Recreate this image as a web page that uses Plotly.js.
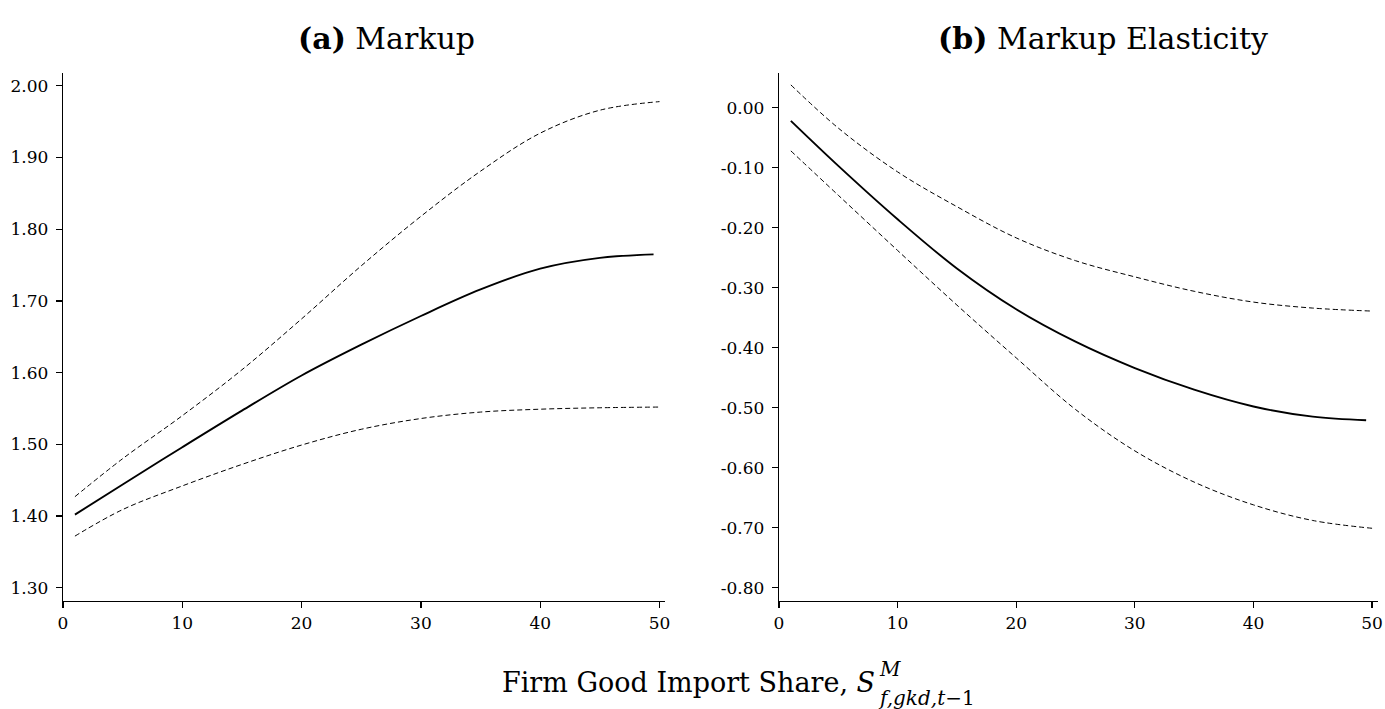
<!DOCTYPE html>
<html>
<head>
<meta charset="utf-8">
<script src="https://cdn.plot.ly/plotly-3.0.1.min.js"></script>
<style>
  html, body { margin: 0; padding: 0; background: #fff; }
  #chart { width: 1385px; height: 709px; }
</style>
</head>
<body>
<div id="chart"></div>
<script>
// Import share grid (percent); the point estimate stops slightly before the bands
const xMean = [1, 5, 10, 15, 20, 25, 30, 35, 40, 45, 49.5];
const xBand = [1, 5, 10, 15, 20, 25, 30, 35, 40, 45, 50];

// (a) Markup: point estimate and confidence bounds
const markupMean  = [1.402, 1.444, 1.496, 1.547, 1.596, 1.639, 1.679, 1.716, 1.745, 1.760, 1.765];
const markupUpper = [1.427, 1.480, 1.540, 1.604, 1.675, 1.749, 1.818, 1.881, 1.934, 1.966, 1.978];
const markupLower = [1.372, 1.409, 1.442, 1.472, 1.499, 1.521, 1.536, 1.545, 1.549, 1.551, 1.552];

// (b) Markup elasticity: point estimate and confidence bounds
const elastMean  = [-0.022, -0.097, -0.186, -0.268, -0.336, -0.390, -0.434, -0.470, -0.498, -0.515, -0.521];
const elastUpper = [0.038, -0.034, -0.107, -0.165, -0.217, -0.255, -0.282, -0.306, -0.324, -0.334, -0.339];
const elastLower = [-0.072, -0.146, -0.238, -0.329, -0.417, -0.503, -0.572, -0.624, -0.662, -0.688, -0.701];

// Tick marks and their printed labels
const xTicks = [0, 10, 20, 30, 40, 50];
const markupTicks = [1.3, 1.4, 1.5, 1.6, 1.7, 1.8, 1.9, 2.0];
const markupTickText = ['1.30', '1.40', '1.50', '1.60', '1.70', '1.80', '1.90', '2.00'];
const elastTicks = [0, -0.1, -0.2, -0.3, -0.4, -0.5, -0.6, -0.7, -0.8];
const elastTickText = ['0.00', '-0.10', '-0.20', '-0.30', '-0.40', '-0.50', '-0.60', '-0.70', '-0.80'];

const W = 1385, H = 709;
const px = v => v / W;          // horizontal pixel -> paper
const py = v => 1 - v / H;      // vertical pixel -> paper

const solid = { color: '#000', width: 1.9, shape: 'spline', smoothing: 1 };
const dashed = { color: '#000', width: 1.0, dash: '5px,3px', shape: 'spline', smoothing: 1 };

const traces = [
  { x: xBand, y: markupUpper, xaxis: 'x', yaxis: 'y', mode: 'lines', line: dashed, hoverinfo: 'skip' },
  { x: xBand, y: markupLower, xaxis: 'x', yaxis: 'y', mode: 'lines', line: dashed, hoverinfo: 'skip' },
  { x: xMean, y: markupMean, xaxis: 'x', yaxis: 'y', mode: 'lines', line: solid },
  { x: xBand, y: elastUpper, xaxis: 'x2', yaxis: 'y2', mode: 'lines', line: dashed, hoverinfo: 'skip' },
  { x: xBand, y: elastLower, xaxis: 'x2', yaxis: 'y2', mode: 'lines', line: dashed, hoverinfo: 'skip' },
  { x: xMean, y: elastMean, xaxis: 'x2', yaxis: 'y2', mode: 'lines', line: solid }
];

const tickFont = { family: 'DejaVu Serif', size: 17, color: '#000' };
const axisBase = {
  showgrid: false, zeroline: false, showline: true, linecolor: '#000', linewidth: 1.3,
  ticks: 'outside', ticklen: 6, tickwidth: 1.3, tickcolor: '#000',
  tickfont: tickFont, automargin: false, fixedrange: true
};

const yDomain = [py(601), py(73)];

const layout = {
  width: W, height: H,
  margin: { l: 0, r: 0, t: 0, b: 0 },
  paper_bgcolor: '#fff', plot_bgcolor: '#fff',
  showlegend: false,
  xaxis: Object.assign({}, axisBase, {
    domain: [px(63), px(665)], range: [0, 50.46], anchor: 'y',
    tickvals: xTicks, ticktext: xTicks.map(String)
  }),
  yaxis: Object.assign({}, axisBase, {
    domain: yDomain, range: [1.2815, 2.0179], anchor: 'x',
    tickvals: markupTicks, ticktext: markupTickText, ticklabelstandoff: 4
  }),
  xaxis2: Object.assign({}, axisBase, {
    domain: [px(779), px(1378)], range: [0, 50.5], anchor: 'y2',
    tickvals: xTicks, ticktext: xTicks.map(String)
  }),
  yaxis2: Object.assign({}, axisBase, {
    domain: yDomain, range: [-0.8222, 0.0578], anchor: 'x2',
    tickvals: elastTicks, ticktext: elastTickText, ticklabelstandoff: 4
  }),
  annotations: [
    { text: '<b>(a)</b> Markup', xref: 'paper', yref: 'paper', x: px(387), y: py(38),
      xanchor: 'center', yanchor: 'middle', showarrow: false,
      font: { family: 'DejaVu Serif', size: 30, color: '#000' } },
    { text: '<b>(b)</b> Markup Elasticity', xref: 'paper', yref: 'paper', x: px(1103), y: py(38),
      xanchor: 'center', yanchor: 'middle', showarrow: false,
      font: { family: 'DejaVu Serif', size: 30, color: '#000' } },
    { text: 'Firm Good Import Share, <i>S</i>', xref: 'paper', yref: 'paper', x: px(500), y: py(682),
      xanchor: 'left', yanchor: 'middle', showarrow: false,
      font: { family: 'DejaVu Serif', size: 27, color: '#000' } },
    { text: '<i>M</i>', xref: 'paper', yref: 'paper', x: px(877), y: py(669),
      xanchor: 'left', yanchor: 'middle', showarrow: false,
      font: { family: 'DejaVu Serif', size: 20, color: '#000' } },
    { text: '<i>f,gkd,t</i>\u22121', xref: 'paper', yref: 'paper', x: px(876), y: py(698),
      xanchor: 'left', yanchor: 'middle', showarrow: false,
      font: { family: 'DejaVu Serif', size: 20, color: '#000' } }
  ]
};

Plotly.newPlot('chart', traces, layout, { staticPlot: true, displayModeBar: false });
</script>
</body>
</html>
